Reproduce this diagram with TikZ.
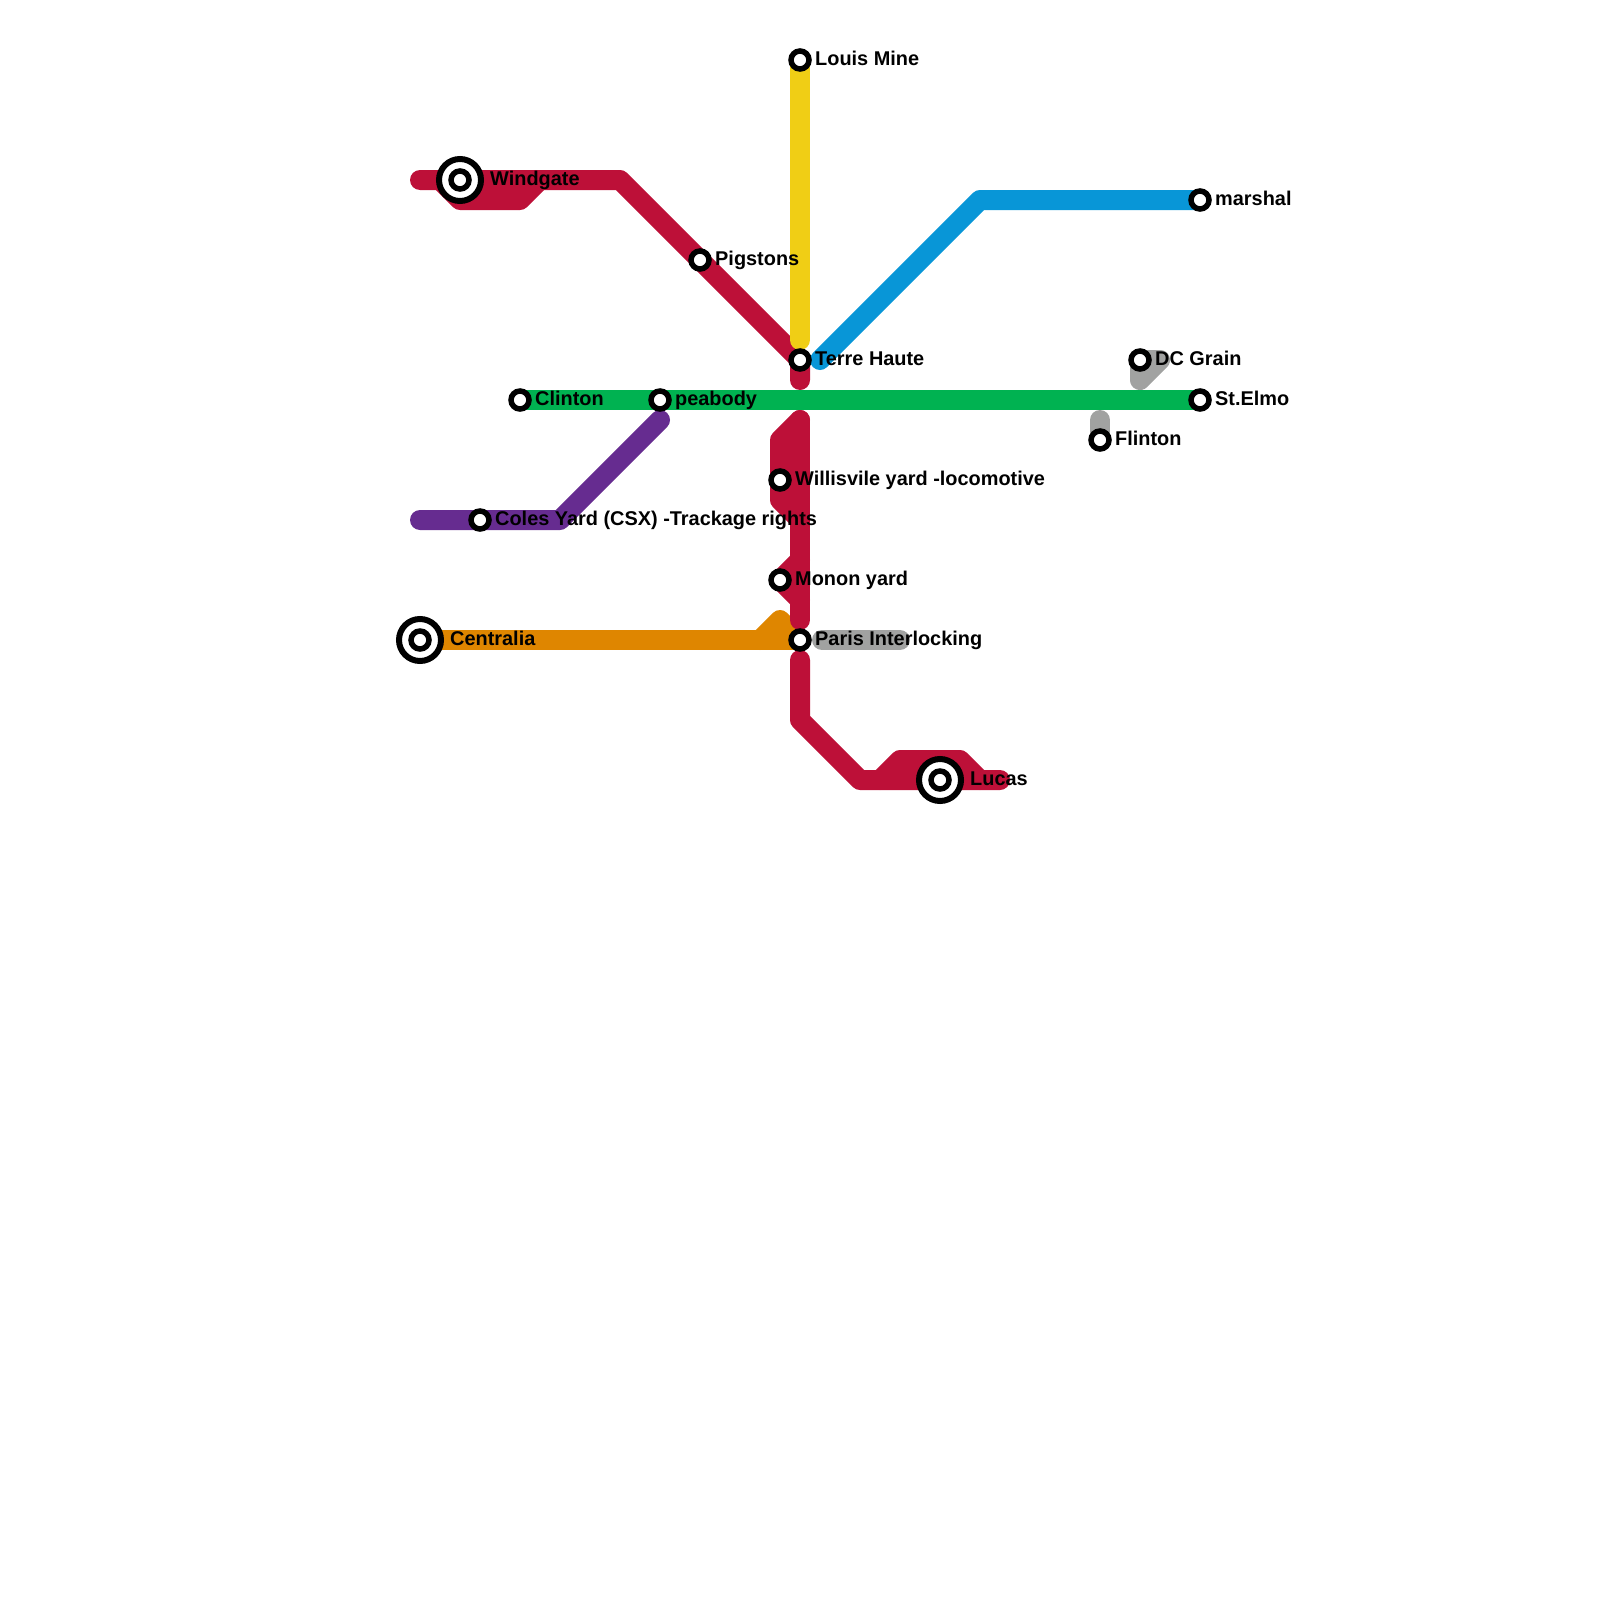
\documentclass[tikz,border=0pt]{standalone}
\usepackage{fontspec}
\setmainfont{Liberation Sans}
\definecolor{railred}{HTML}{BD1038}
\definecolor{railyellow}{HTML}{F0CE15}
\definecolor{railblue}{HTML}{0896D7}
\definecolor{railgreen}{HTML}{00B251}
\definecolor{railpurple}{HTML}{662C90}
\definecolor{railorange}{HTML}{DF8600}
\definecolor{railgrey}{HTML}{A1A2A1}
\tikzset{
  railline/.style={line width=20pt, line cap=round, line join=round},
  stop/.style={circle, draw=black, fill=white, line width=5.5pt, minimum size=18pt, inner sep=0pt},
  bigstop/.style={circle, draw=black, fill=white, line width=6pt, minimum size=42pt, inner sep=0pt},
  stopname/.style={anchor=base west, inner sep=0pt, font=\bfseries\fontsize{19.9pt}{24pt}\selectfont}
}
\begin{document}
\begin{tikzpicture}[x=1pt, y=-1pt]
\useasboundingbox (0,0) rectangle (1600,1600);

%stop positions
\foreach \name/\x/\y in {louis/800/60, windgate/460/180, marshal/1200/200, pigstons/700/260,
  terre/800/360, dcgrain/1140/360, clinton/520/400, peabody/660/400, stelmo/1200/400,
  flinton/1100/440, willisvile/780/480, coles/480/520, monon/780/580, centralia/420/640,
  paris/800/640, lucas/940/780}
\coordinate (\name) at (\x,\y);

%draw grey lines
\draw[railline, railgrey] (822,640) -- (900,640);
\draw[railline, railgrey] (flinton) -- (1100,420);
\draw[railline, railgrey] (dcgrain) -- (1140,380) -- (1160,360) -- cycle;

%draw orange line
\draw[railline, railorange] (centralia) -- (paris);
\draw[railline, railorange] (760,640) -- (780,620) -- (paris);

%draw purple line
\draw[railline, railpurple] (420,520) -- (coles) -- (560,520) -- (660,420);

%draw red lines
\draw[railline, railred] (420,180) -- (windgate) -- (620,180) -- (pigstons) -- (terre) -- (800,380);
\draw[railline, railred] (440,180) -- (460,200) -- (520,200) -- (540,180);
\draw[railline, railred] (800,420) -- (800,620);
\draw[railline, railred] (800,420) -- (780,440) -- (willisvile) -- (780,500) -- (800,520);
\draw[railline, railred] (800,560) -- (monon) -- (800,600);
\draw[railline, railred] (800,660) -- (800,720) -- (860,780) -- (lucas) -- (1000,780);
\draw[railline, railred] (880,780) -- (900,760) -- (960,760) -- (980,780);

%draw yellow, blue and green lines
\draw[railline, railyellow] (louis) -- (800,340);
\draw[railline, railblue] (820,360) -- (980,200) -- (marshal);
\draw[railline, railgreen] (clinton) -- (stelmo);

%draw stops
\foreach \name in {windgate,centralia,lucas}
\node[bigstop] (\name-ring) at (\name) {};

\foreach \name in {louis,windgate,marshal,pigstons,terre,dcgrain,clinton,peabody,stelmo,flinton,willisvile,coles,monon,centralia,paris,lucas}
\node[stop] (\name-stop) at (\name) {};

%draw stop names
\foreach \name/\dx/\txt in {louis/15/Louis Mine, windgate/30/Windgate, marshal/15/marshal,
  pigstons/15/Pigstons, terre/15/Terre Haute, dcgrain/15/DC Grain, clinton/15/Clinton,
  peabody/15/peabody, stelmo/15/St.Elmo, flinton/15/Flinton,
  willisvile/15/Willisvile yard -locomotive, coles/15/Coles Yard (CSX) -Trackage rights,
  monon/15/Monon yard, centralia/30/Centralia, paris/15/Paris Interlocking, lucas/30/Lucas}
\node[stopname] (\name-text) at ([shift={(\dx,5.5)}]\name) {\txt};

\end{tikzpicture}
\end{document}
